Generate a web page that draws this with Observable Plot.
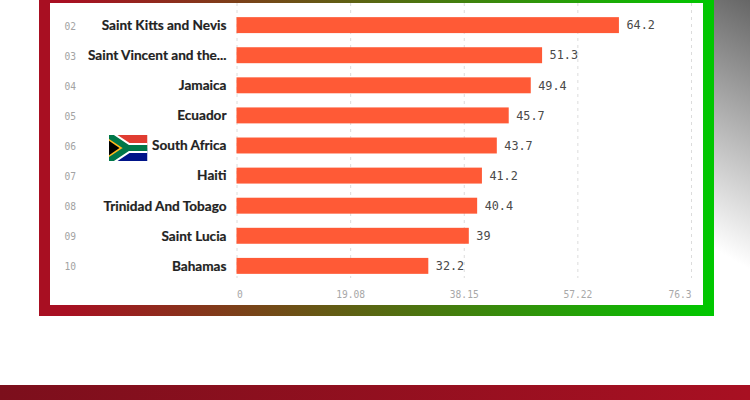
<!DOCTYPE html>
<html>
<head>
<meta charset="utf-8">
<script src="https://cdn.jsdelivr.net/npm/d3@7"></script>
<script src="https://cdn.jsdelivr.net/npm/@observablehq/plot@0.6"></script>
<style>
html,body{margin:0;padding:0;background:#fff;}
#stage{position:relative;width:750px;height:400px;overflow:hidden;background:#fff;}
#side{position:absolute;left:700px;top:0;width:50px;height:300px;background:linear-gradient(210deg,#666 0%,#fff 82%,#fff 100%);}
#frame{position:absolute;left:39px;top:-20px;width:675px;height:336px;background:linear-gradient(90deg,#a80f22 0%,#a80f22 4%,#00c800 100%);}
#panel{position:absolute;left:50px;top:3px;width:653px;height:302px;background:#fff;}
#band{position:absolute;left:0;top:385px;width:750px;height:15px;background:linear-gradient(90deg,#7c0f1c,#a81022);}
#chart{position:absolute;left:0;top:0;}
#chart svg{background:transparent;display:block;}
</style>
</head>
<body>
<div id="stage">
<div id="side"></div><div id="frame"></div><div id="panel"></div><div id="band"></div>
<div id="chart"></div>
</div>
<script>
const ranks = ["02","03","04","05","06","07","08","09","10"];
const countries = ["Saint Kitts and Nevis","Saint Vincent and the...","Jamaica","Ecuador","South Africa","Haiti","Trinidad And Tobago","Saint Lucia","Bahamas"];
const values = [64.2,51.3,49.4,45.7,43.7,41.2,40.4,39,32.2];
const ticks = [0,19.08,38.15,57.22,76.3];
const flagCountry = ["South Africa"];

const flagSvg = `<svg xmlns="http://www.w3.org/2000/svg" viewBox="0 0 39 26" preserveAspectRatio="none"><rect width="39" height="13" fill="#e03c31"/><rect y="13" width="39" height="13" fill="#001489"/><path d="M0 0 L19 13 L0 26 Z" fill="#000"/><path d="M0 0 L19.5 13 L0 26 M19 13 H39" fill="none" stroke="#fff" stroke-width="10"/><path d="M0 4.5 L13 13 L0 21.5" fill="none" stroke="#ffb81c" stroke-width="3"/><path d="M0 0 L19.5 13 L0 26 M19 13 H39" fill="none" stroke="#007749" stroke-width="6"/><path d="M0 5.5 L11 13 L0 20.5 Z" fill="#000"/></svg>`;
const flagSrc = "data:image/svg+xml," + encodeURIComponent(flagSvg);

const rows = ranks.map((rank,i)=>({rank,country:countries[i],value:values[i]}));
const labelFont = "Lato, 'Open Sans', sans-serif";
const monoFont = "'DejaVu Sans Mono', monospace";

const plot = Plot.plot({
  width:750,height:400,
  marginLeft:236.5,marginRight:59,marginTop:3,marginBottom:112,
  style:{background:"transparent",overflow:"visible"},
  x:{domain:[0,76.3],axis:null},
  y:{domain:countries,axis:null,padding:0.47,round:false},
  marks:[
    Plot.ruleX(ticks,{stroke:"#dcdcdc",strokeWidth:1,strokeDasharray:"3 4",insetBottom:10}),
    Plot.barX(rows,{x:"value",y:"country",fill:"#ff5a36"}),
    Plot.text(rows,{x:"value",y:"country",text:d=>String(d.value),dx:7,textAnchor:"start",fontFamily:monoFont,fontSize:11.8,fill:"#4a4a4a",fontWeight:500}),
    Plot.text(rows,{x:0,y:"country",text:"country",dx:-10.5,textAnchor:"end",fontFamily:labelFont,fontSize:13.6,fontWeight:700,fill:"#222",stroke:"#222",strokeWidth:0.2}),
    Plot.text(rows,{frameAnchor:"left",y:"country",text:"rank",dx:-172.5,dy:1,textAnchor:"start",fontFamily:monoFont,fontSize:9.6,fill:"#a3a3a3"}),
    Plot.image(flagCountry,{x:0,y:d=>d,src:()=>flagSrc,width:39,height:26,dx:-109,dy:2,preserveAspectRatio:"none"}),
    Plot.text(ticks.slice(0,1),{x:d=>d,frameAnchor:"bottom",text:d=>String(d),dy:9,textAnchor:"start",fontFamily:monoFont,fontSize:9.6,fill:"#a8a8a8"}),
    Plot.text(ticks.slice(1,4),{x:d=>d,frameAnchor:"bottom",text:d=>String(d),dy:9,textAnchor:"middle",fontFamily:monoFont,fontSize:9.6,fill:"#a8a8a8"}),
    Plot.text(ticks.slice(4),{x:d=>d,frameAnchor:"bottom",text:d=>String(d),dy:9,textAnchor:"end",fontFamily:monoFont,fontSize:9.6,fill:"#a8a8a8"})
  ]
});
document.getElementById("chart").appendChild(plot);
</script>
</body>
</html>
